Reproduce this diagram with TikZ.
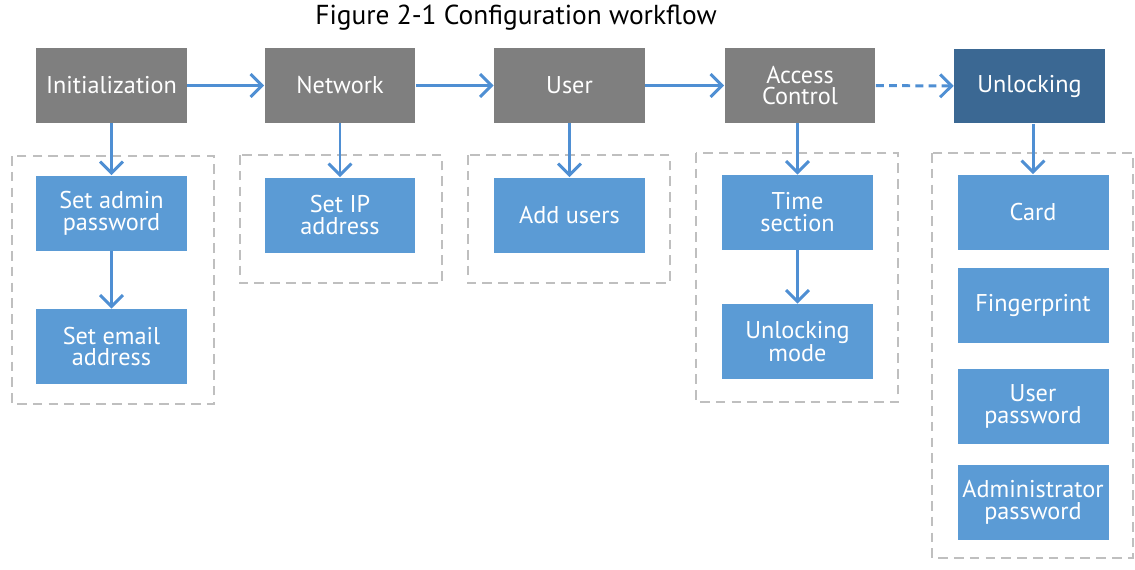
\documentclass[tikz,border=0pt]{standalone}
\usepackage{fontspec}
\setmainfont{PT Sans}
\usetikzlibrary{arrows.meta}
\definecolor{stagegray}{HTML}{7F7F7F}
\definecolor{lockblue}{HTML}{3B6893}
\definecolor{itemblue}{HTML}{5B9BD5}
\definecolor{flowblue}{HTML}{4F8FD3}
\definecolor{framegray}{HTML}{BFBFBF}
\tikzset{
  box/.style={minimum width=3.02cm, minimum height=1.5cm, inner sep=1pt,
    text=white, align=center, font=\fontsize{13.8}{12.5}\selectfont},
  stage/.style={box, fill=stagegray},
  item/.style={box, fill=itemblue},
  flow/.style={draw=flowblue, line width=1.7pt,
    -{Straight Barb[length=6.5pt,width=13pt]}},
  grp/.style={draw=framegray, line width=0.6pt, dash pattern=on 5.5pt off 3.5pt},
}
\begin{document}
\begin{tikzpicture}[x=0.02cm,y=-0.02cm]
        \useasboundingbox (0,0) rectangle (1135,569);
        \node[font=\fontsize{15.6}{17}\selectfont] (title) at (516,18) {Figure 2-1 Configuration workflow};
        % dashed groups
        \draw[grp] (12,156) rectangle (214,404);
        \draw[grp] (240,155) rectangle (442,283);
        \draw[grp] (468,155) rectangle (670,283);
        \draw[grp] (696,153) rectangle (898,402);
        \draw[grp] (932,153) rectangle (1133,558);
        % top row
        \node[stage] (init) at (111.5,85.5) {Initialization};
        \node[stage] (net) at (340,85.5) {Network};
        \node[stage] (user) at (569.5,85.5) {User};
        \node[stage] (ac) at (800,85.5) {Access\\Control};
        \node[stage, fill=lockblue] (unlock) at (1029.5,86) {Unlocking};
        % items
        \node[item] (admin) at (111.5,213) {Set admin\\password};
        \node[item] (email) at (111.5,346.5) {Set email\\address};
        \node[item] (ip) at (340,215) {Set IP\\address};
        \node[item] (adduser) at (569.5,215) {Add users};
        \node[item] (time) at (797.5,212.5) {Time\\section};
        \node[item] (mode) at (797.5,341.5) {Unlocking\\mode};
        \node[item] (card) at (1033,212) {Card};
        \node[item] (finger) at (1033,305.5) {Fingerprint};
        \node[item] (upass) at (1033,406.5) {User\\password};
        \node[item] (apass) at (1033,502.5) {Administrator\\password};
        % connectors
        \draw[flow] (init) -- (net);
        \draw[flow] (net) -- (user);
        \draw[flow] (user) -- (ac);
        \draw[flow, dash pattern=on 4.5pt off 3pt] (ac) -- (unlock);
        \draw[flow] (init) -- (admin);
        \draw[flow] (admin) -- (email);
        \draw[flow] (net) -- (ip);
        \draw[flow] (user) -- (adduser);
        \draw[flow] (ac.south -| time) -- (time);
        \draw[flow] (time) -- (mode);
        \draw[flow] (unlock.south -| card) -- (card);
    \end{tikzpicture}
\end{document}
